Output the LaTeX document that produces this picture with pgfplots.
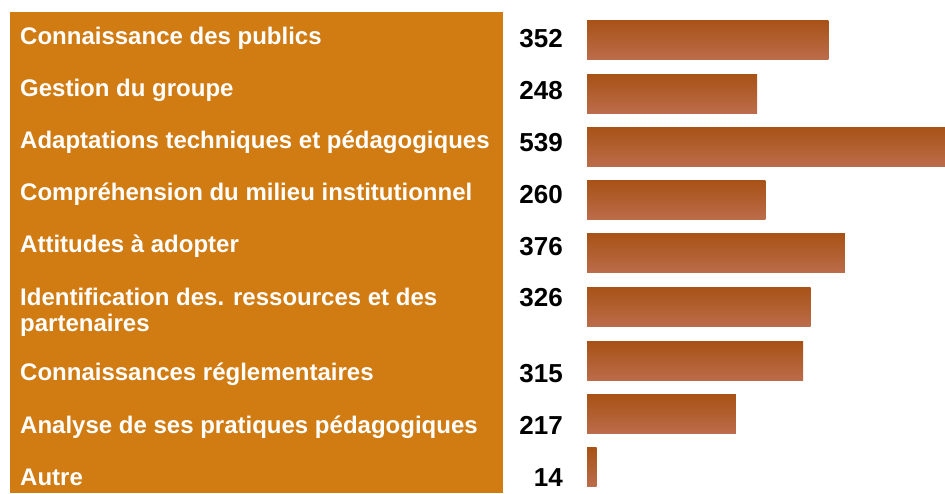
\documentclass[border=0pt]{standalone}
\usepackage{fontspec}
\setmainfont{Liberation Sans}
\usepackage{pgfplots}
\pgfplotsset{compat=1.18}

\definecolor{boxorange}{RGB}{209,123,19}
\definecolor{bartop}{RGB}{168,82,22}
\definecolor{barbot}{RGB}{187,108,74}

% 1 unit on y = 1pt (pixel rows of the reference), x in data units
\tikzset{
  lab/.style={anchor=base west, inner sep=0pt, text=white,
              font=\fontsize{24}{28}\selectfont\bfseries},
  num/.style={anchor=base east, inner sep=0pt, text=black,
              font=\fontsize{26}{30}\selectfont\bfseries},
  gbar/.style={xbar, bar width=39pt, bar shift=0pt, mark=none,
               draw=none, top color=bartop, bottom color=barbot},
}

\begin{document}
\begin{tikzpicture}
\begin{axis}[
  scale only axis, width=945pt, height=493pt,
  xmin=-855.69, xmax=521.87, ymin=0, ymax=493, y dir=reverse,
  hide axis, clip=true]

\path (rel axis cs:0,0) rectangle (rel axis cs:1,1);
\fill[boxorange] (axis cs:-841.1,12) rectangle (axis cs:-122.4,493);

% one plot per bar so that each bar gets its own gradient
\addplot[gbar] coordinates {(352,39.5)};
\addplot[gbar] coordinates {(248,93.5)};
\addplot[gbar] coordinates {(539,146.5)};
\addplot[gbar] coordinates {(260,199.8)};
\addplot[gbar] coordinates {(376,253.2)};
\addplot[gbar] coordinates {(326,306.6)};
\addplot[gbar] coordinates {(315,361)};
\addplot[gbar] coordinates {(217,414)};
\addplot[gbar] coordinates {(14,467)};

% category labels
\node[lab] at (axis cs:-826.5,44.8) {Connaissance des publics};
\node[lab] at (axis cs:-826.5,96.8) {Gestion du groupe};
\node[lab] at (axis cs:-826.5,148.8) {Adaptations techniques et pédagogiques};
\node[lab] at (axis cs:-826.5,200.8) {Compréhension du milieu institutionnel};
\node[lab] at (axis cs:-826.5,252.8) {Attitudes à adopter};
\node[lab] at (axis cs:-826.5,305.3) {Identification des. ressources et des};
\node[lab] at (axis cs:-826.5,331.5) {partenaires};
\node[lab] at (axis cs:-826.5,380.5) {Connaissances réglementaires};
\node[lab] at (axis cs:-826.5,433) {Analyse de ses pratiques pédagogiques};
\node[lab] at (axis cs:-826.5,485) {Autre};

% values
\node[num] at (axis cs:-35,47.7) {352};
\node[num] at (axis cs:-35,99.7) {248};
\node[num] at (axis cs:-35,151.7) {539};
\node[num] at (axis cs:-35,203.5) {260};
\node[num] at (axis cs:-35,255.3) {376};
\node[num] at (axis cs:-35,306.7) {326};
\node[num] at (axis cs:-35,382) {315};
\node[num] at (axis cs:-35,434) {217};
\node[num] at (axis cs:-35,486) {14};
\end{axis}
\end{tikzpicture}
\end{document}
